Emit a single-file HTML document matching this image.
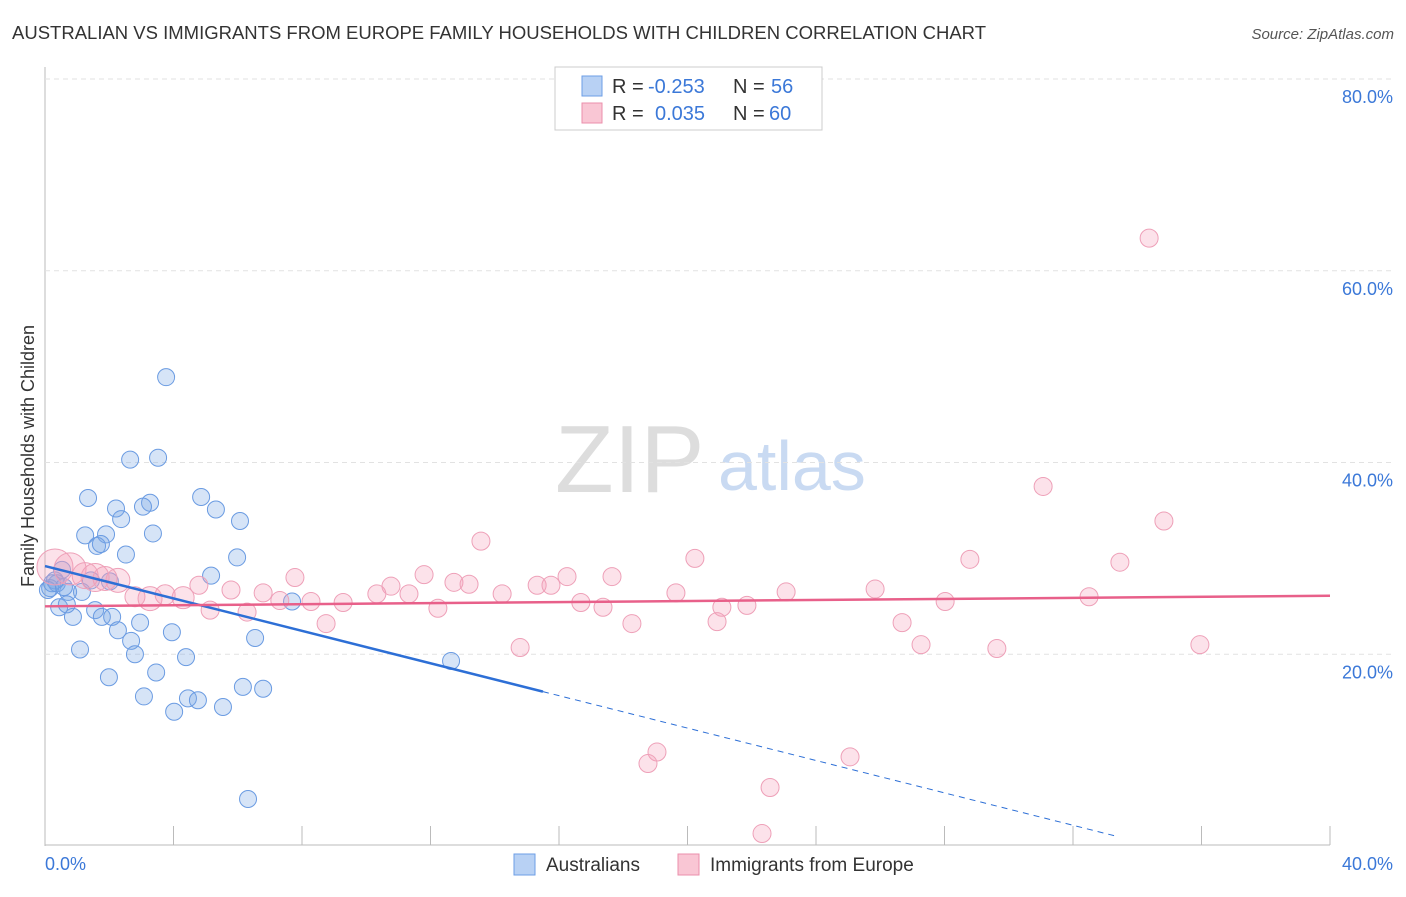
<!DOCTYPE html>
<html><head><meta charset="utf-8"><style>
body{margin:0;background:#fff;font-family:"Liberation Sans",sans-serif;}
svg text{font-family:"Liberation Sans",sans-serif;}
</style></head><body>
<svg id="chart" width="1406" height="892" xmlns="http://www.w3.org/2000/svg">
<text x="12" y="39" font-size="18" fill="#333" textLength="974" lengthAdjust="spacingAndGlyphs">AUSTRALIAN VS IMMIGRANTS FROM EUROPE FAMILY HOUSEHOLDS WITH CHILDREN CORRELATION CHART</text>
<text x="1394" y="39" font-size="15" fill="#555" font-style="italic" text-anchor="end">Source: ZipAtlas.com</text>
<text x="555" y="492" font-size="96" fill="#ddd" font-family="Liberation Serif">ZIP</text>
<text x="718" y="490" font-size="70" fill="#c9daf2">atlas</text>
<g id="grid"></g>
<g id="marks"></g>
<text transform="translate(34,456) rotate(-90)" font-size="18" fill="#333" text-anchor="middle">Family Households with Children</text>
<text x="45" y="870" font-size="18" fill="#3b78d8">0.0%</text>
<text x="1393" y="870" font-size="18" fill="#3b78d8" text-anchor="end">40.0%</text>
<g>
<rect x="555" y="67" width="267" height="63" fill="#fff" stroke="#ccc"/>
<rect x="582" y="76" width="20" height="20" fill="#b8d1f4" stroke="#6c9ee6"/>
<rect x="582" y="103" width="20" height="20" fill="#f9c6d4" stroke="#eb8fab"/>
<text x="612" y="93" font-size="20" fill="#333">R =</text>
<text x="648" y="93" font-size="20" fill="#3b78d8">-0.253</text>
<text x="733" y="93" font-size="20" fill="#333">N =</text>
<text x="771" y="93" font-size="20" fill="#3b78d8">56</text>
<text x="612" y="120" font-size="20" fill="#333">R =</text>
<text x="655" y="120" font-size="20" fill="#3b78d8">0.035</text>
<text x="733" y="120" font-size="20" fill="#333">N =</text>
<text x="769" y="120" font-size="20" fill="#3b78d8">60</text>
</g>
<g>
<rect x="514" y="854" width="21" height="21" fill="#b8d1f4" stroke="#6c9ee6"/>
<text x="546" y="871" font-size="19" fill="#333">Australians</text>
<rect x="678" y="854" width="21" height="21" fill="#f9c6d4" stroke="#eb8fab"/>
<text x="710" y="871" font-size="19" fill="#333">Immigrants from Europe</text>
</g>
</svg>
<script>
const yTicks=[20,40,60,80];
const yTickLabels=["20.0%","40.0%","60.0%","80.0%"];
const xTicks=[0,4,8,12,16,20,24,28,32,36,40];
const blueX=[3.77,2.65,3.52,1.34,4.86,3.27,2.21,3.05,5.32,2.37,6.07,1.25,1.90,3.36,1.62,1.74,2.52,5.98,5.17,0.53,0.31,0.16,0.37,1.15,1.43,0.72,0.44,0.87,1.56,1.77,2.09,2.96,2.27,3.95,7.69,2.68,2.80,1.09,6.54,4.39,3.46,1.99,3.08,4.45,4.76,4.02,5.54,6.16,6.79,12.64,6.32,0.68,0.09,0.22,2.02,0.59];
const blueY=[48.9,40.3,40.5,36.3,36.4,35.8,35.2,35.4,35.1,34.1,33.9,32.4,32.5,32.6,31.3,31.5,30.4,30.1,28.2,28.8,27.7,26.9,27.4,26.5,27.7,26.5,24.9,23.9,24.6,23.9,23.9,23.3,22.5,22.3,25.5,21.4,20.0,20.5,21.7,19.7,18.1,17.6,15.6,15.4,15.2,14.0,14.5,16.6,16.4,19.3,4.9,25.2,26.7,27.4,27.6,27.0];
const pinkX=[34.37,31.07,34.83,13.57,20.23,28.79,33.46,7.78,11.80,16.25,17.65,12.73,13.20,15.32,15.75,10.77,4.79,5.79,6.79,11.33,10.33,14.23,19.64,23.07,25.84,32.50,16.68,17.37,21.85,21.07,28.02,8.28,9.28,12.23,5.14,6.29,8.75,18.27,20.92,26.68,14.79,27.27,29.63,35.95,19.05,18.77,25.06,22.57,22.32,0.31,0.78,1.56,2.27,3.27,4.30,3.74,2.80,1.25,1.87,7.31];
const pinkY=[63.4,37.5,33.9,31.8,30.0,29.9,29.6,28.0,28.3,28.1,28.1,27.5,27.3,27.2,27.2,27.1,27.2,26.7,26.4,26.3,26.3,26.3,26.4,26.5,26.8,26.0,25.4,24.9,25.1,24.9,25.5,25.5,25.4,24.8,24.6,24.4,23.2,23.2,23.4,23.3,20.7,21.0,20.6,21.0,9.8,8.6,9.3,6.1,1.3,29.1,28.9,28.0,27.7,25.8,25.9,26.2,26.0,28.2,27.9,25.6];
const pinkR=[9,9,9,9,9,9,9,9,9,9,9,9,9,9,9,9,9,9,9,9,9,9,9,9,9,9,9,9,9,9,9,9,9,9,9,9,9,9,9,9,9,9,9,9,9,9,9,9,9,18,16,14,12,12,11,10,10,13,12,9];
const blueTrend=[29.2,-0.845];
const pinkTrend=[25.0,0.0275];
const NS="http://www.w3.org/2000/svg";
const X0=45,X1=1330,Y0=846,Y80=79;
function sx(v){return X0+(v/40)*(X1-X0);}
function sy(v){return Y0-(v/80)*(Y0-Y80);}
function mk(tag,attrs,parent){const e=document.createElementNS(NS,tag);for(const k in attrs)e.setAttribute(k,attrs[k]);parent.appendChild(e);return e;}
const grid=document.getElementById('grid'),marks=document.getElementById('marks');
let ax=mk('line',{x1:45,y1:67,x2:45,y2:846,stroke:'#bbb'},grid);


let bx=mk('line',{x1:45,y1:845,x2:1330,y2:845,stroke:'#bbb'},grid);


yTicks.forEach((t,i)=>{
  const y=sy(t);
  const g=mk('line',{x1:45,y1:y,x2:1393,y2:y,stroke:'#e2e2e2','stroke-dasharray':'5,4'},grid);
  
  
  const tx=mk('text',{x:1393,y:y+24,'font-size':18,fill:'#3b78d8','text-anchor':'end'},grid);
  tx.textContent=yTickLabels[i];
  
  
});
xTicks.forEach(t=>{
  const l=mk('line',{x1:sx(t),y1:826,x2:sx(t),y2:845,stroke:'#bbb'},grid);
  
  
});
blueX.forEach((v,i)=>{
  const c=mk('circle',{cx:sx(v),cy:sy(blueY[i]),r:8.5,fill:'rgba(120,165,230,0.3)',stroke:'#6a9be2','stroke-width':1},marks);
  
  
});
pinkX.forEach((v,i)=>{
  const c=mk('circle',{cx:sx(v),cy:sy(pinkY[i]),r:pinkR[i],fill:'rgba(244,160,185,0.3)',stroke:'#eea0b8','stroke-width':1},marks);
  
  
});
const bEnd=15.5,bDash=33.3;
let bl=mk('line',{x1:sx(0),y1:sy(blueTrend[0]),x2:sx(bEnd),y2:sy(blueTrend[0]+blueTrend[1]*bEnd),stroke:'#2d6fd6','stroke-width':2.5},marks);


let bd=mk('line',{x1:sx(bEnd),y1:sy(blueTrend[0]+blueTrend[1]*bEnd),x2:sx(bDash),y2:sy(blueTrend[0]+blueTrend[1]*bDash),stroke:'#2d6fd6','stroke-width':1,'stroke-dasharray':'6,5'},marks);


let pl=mk('line',{x1:sx(0),y1:sy(pinkTrend[0]),x2:sx(40),y2:sy(pinkTrend[0]+pinkTrend[1]*40),stroke:'#e8608a','stroke-width':2.5},marks);


</script>
</body></html>
